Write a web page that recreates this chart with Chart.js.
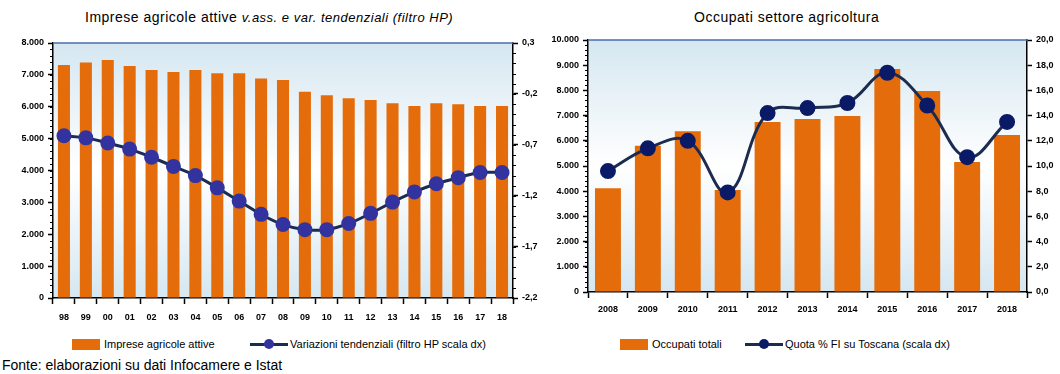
<!DOCTYPE html>
<html lang="it">
<head>
<meta charset="UTF-8" />
<title>Imprese agricole e occupati</title>
<script src="https://cdn.jsdelivr.net/npm/chart.js"></script>
<style>
body {
    margin: 0;
    width: 1060px;
    height: 374px;
    background: #fff;
    font-family: "Liberation Sans", Arial, sans-serif;
    color: #000;
    position: relative;
    overflow: hidden;
}
.box { position: absolute; }
.title {
    position: absolute;
    top: 9px;
    font-size: 14px;
    letter-spacing: 0.5px;
    white-space: nowrap;
}
.title i { font-size: 13px; }
.legend {
    position: absolute;
    top: 338px;
    font-size: 11px;
    display: flex;
    align-items: center;
    white-space: nowrap;
}
.swatch { width: 28px; height: 11px; background: #e46c0a; margin-right: 4px; }
.lineKey { position: relative; width: 38px; height: 11px; margin-right: 2px; }
.lineKey:before {
    content: ""; position: absolute; left: 0; right: 0; top: 4px; height: 3px; background: #1c2b50;
}
.lineKey span {
    position: absolute; left: 14px; top: 0; width: 10px; height: 10px; border-radius: 50%;
}
.source { position: absolute; left: 2px; top: 357px; font-size: 14px; }
</style>
</head>
<body>

<div class="title" style="left:85px">Imprese agricole attive <i>v.ass. e var. tendenziali (filtro HP)</i></div>
<div class="title" style="left:694px">Occupati settore agricoltura</div>

<div class="box" style="left:0;top:0;width:550px;height:330px"><canvas id="impreseChart"></canvas></div>
<div class="box" style="left:530px;top:0;width:530px;height:320px"><canvas id="occupatiChart"></canvas></div>

<div class="legend" style="left:72px"><div class="swatch"></div>Imprese agricole attive</div>
<div class="legend" style="left:250px"><div class="lineKey"><span style="background:#3333a0"></span></div>Variazioni tendenziali (filtro HP scala dx)</div>
<div class="legend" style="left:620px"><div class="swatch"></div>Occupati totali</div>
<div class="legend" style="left:745px"><div class="lineKey"><span style="background:#0b1a66"></span></div>Quota % FI su Toscana (scala dx)</div>

<div class="source">Fonte: elaborazioni su dati Infocamere e Istat</div>

<script>
// --- dati: imprese agricole attive
const anniImprese = ['98','99','00','01','02','03','04','05','06','07','08','09','10','11','12','13','14','15','16','17','18'];
const impreseAttive = [7310, 7390, 7470, 7280, 7150, 7090, 7150, 7050, 7050, 6890, 6840, 6470, 6360, 6270, 6210, 6110, 6020, 6110, 6080, 6020, 6020];
const variazioniHP = [-0.61, -0.63, -0.68, -0.74, -0.82, -0.91, -1.00, -1.12, -1.25, -1.38, -1.48, -1.53, -1.53, -1.47, -1.37, -1.26, -1.16, -1.08, -1.02, -0.97, -0.97];
const tickImprese = [0, 1000, 2000, 3000, 4000, 5000, 6000, 7000, 8000];
const tickVariazioni = [-2.2, -1.7, -1.2, -0.7, -0.2, 0.3];

// --- dati: occupati settore agricoltura
const anniOccupati = ['2008','2009','2010','2011','2012','2013','2014','2015','2016','2017','2018'];
const occupatiTotali = [4120, 5800, 6380, 4050, 6750, 6870, 6980, 8850, 7980, 5160, 6230];
const quotaFI = [9.6, 11.4, 12.0, 7.9, 14.2, 14.6, 15.0, 17.4, 14.8, 10.7, 13.5];
const tickOccupati = [0, 1000, 2000, 3000, 4000, 5000, 6000, 7000, 8000, 9000, 10000];
const tickQuota = [0, 2, 4, 6, 8, 10, 12, 14, 16, 18, 20];

const ORANGE = '#e46c0a';
const tickFont = { family: '"Liberation Sans", Arial, sans-serif', size: 9, weight: 'bold' };

const fmtMigliaia = v => v === 0 ? '0' : v.toLocaleString('it-IT');
const fmtDecimale = v => v.toFixed(1).replace('.', ',');

// sfondo sfumato + bordo superiore blu dell'area del grafico
const plotBackground = {
    id: 'plotBackground',
    beforeDraw(chart) {
        const { ctx, chartArea: a } = chart;
        const g = ctx.createLinearGradient(0, a.top, 0, a.bottom);
        g.addColorStop(0, '#d5e7f1');
        g.addColorStop(0.5, '#ffffff');
        g.addColorStop(1, '#d5e7f1');
        ctx.save();
        ctx.fillStyle = g;
        ctx.fillRect(a.left, a.top, a.right - a.left, a.bottom - a.top);
        ctx.restore();
    },
    afterDraw(chart) {
        const { ctx, chartArea: a } = chart;
        ctx.save();
        ctx.strokeStyle = '#4a6ea8';
        ctx.lineWidth = 1.5;
        ctx.beginPath();
        ctx.moveTo(a.left, a.top);
        ctx.lineTo(a.right, a.top);
        ctx.stroke();
        // tacche secondarie
        const minor = chart.options.plugins.minorTicks || [];
        ctx.strokeStyle = '#000';
        ctx.lineWidth = 1;
        minor.forEach(m => {
            const s = chart.scales[m.axis];
            const x = m.side === 'left' ? s.right : s.left;
            const dir = m.side === 'left' ? -1 : 1;
            for (let v = s.min; v <= s.max + 1e-9; v += m.step) {
                const y = Math.round(s.getPixelForValue(v)) + 0.5;
                ctx.beginPath();
                ctx.moveTo(x, y);
                ctx.lineTo(x + dir * 3, y);
                ctx.stroke();
            }
        });
        ctx.restore();
    }
};

function yAxis(pos, min, max, ticks, fmt, width) {
    return {
        position: pos,
        min: min,
        max: max,
        afterBuildTicks: s => { s.ticks = ticks.map(v => ({ value: v })); },
        afterFit: s => { s.width = width; },
        border: { color: '#000', width: 1.5 },
        grid: { drawOnChartArea: false, color: '#000', tickLength: 5, tickWidth: 1.5 },
        ticks: { color: '#000', font: tickFont, padding: 4, callback: v => fmt(v) }
    };
}

function xAxis(height, pad) {
    return {
        offset: true,
        afterFit: s => { s.height = height; },
        border: { color: '#000', width: 1.5 },
        grid: { offset: true, drawOnChartArea: false, color: '#000', tickLength: 6, tickWidth: 1.5 },
        ticks: { color: '#000', font: tickFont, padding: pad, maxRotation: 0, autoSkip: false }
    };
}

new Chart(document.getElementById('impreseChart'), {
    data: {
        labels: anniImprese,
        datasets: [
            {
                type: 'line', label: 'Variazioni tendenziali (filtro HP scala dx)', data: variazioniHP,
                yAxisID: 'yDx', borderColor: '#1c2b50', borderWidth: 3, tension: 0.4,
                pointRadius: 6, pointBackgroundColor: '#3333a0', pointBorderColor: '#3333a0', order: 0
            },
            {
                type: 'bar', label: 'Imprese agricole attive', data: impreseAttive,
                yAxisID: 'ySx', backgroundColor: ORANGE, barPercentage: 0.55, categoryPercentage: 1, order: 1
            }
        ]
    },
    options: {
        responsive: true,
        maintainAspectRatio: false,
        animation: false,
        layout: { padding: { top: 43, left: 0, right: 0, bottom: 0 } },
        plugins: {
            legend: { display: false },
            tooltip: { enabled: false },
            minorTicks: [{ axis: 'ySx', step: 200, side: 'left' }, { axis: 'yDx', step: 0.1, side: 'right' }]
        },
        scales: {
            x: xAxis(32, 8),
            ySx: yAxis('left', 0, 8000, tickImprese, fmtMigliaia, 53),
            yDx: yAxis('right', -2.2, 0.3, tickVariazioni, fmtDecimale, 37)
        }
    },
    plugins: [plotBackground]
});

new Chart(document.getElementById('occupatiChart'), {
    data: {
        labels: anniOccupati,
        datasets: [
            {
                type: 'line', label: 'Quota % FI su Toscana (scala dx)', data: quotaFI,
                yAxisID: 'yDx', borderColor: '#1c2b50', borderWidth: 3, tension: 0.4,
                pointRadius: 6.5, pointBackgroundColor: '#0b1a66', pointBorderColor: '#0b1a66', order: 0
            },
            {
                type: 'bar', label: 'Occupati totali', data: occupatiTotali,
                yAxisID: 'ySx', backgroundColor: ORANGE, barPercentage: 0.65, categoryPercentage: 1, order: 1
            }
        ]
    },
    options: {
        responsive: true,
        maintainAspectRatio: false,
        animation: false,
        layout: { padding: { top: 40, left: 0, right: 0, bottom: 0 } },
        plugins: {
            legend: { display: false },
            tooltip: { enabled: false },
            minorTicks: [{ axis: 'ySx', step: 200, side: 'left' }]
        },
        scales: {
            x: xAxis(28, 6),
            ySx: yAxis('left', 0, 10000, tickOccupati, fmtMigliaia, 58),
            yDx: yAxis('right', 0, 20, tickQuota, fmtDecimale, 33)
        }
    },
    plugins: [plotBackground]
});
</script>
</body>
</html>
